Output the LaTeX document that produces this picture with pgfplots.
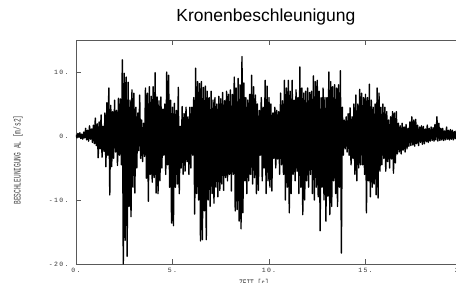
\documentclass[border=0pt]{standalone}
\usepackage{pgfplots}
\usepackage{pgfplotstable}
\pgfplotsset{compat=1.18}
\usepackage{fontspec}
\setmainfont{Liberation Sans}
\newfontfamily\monofont{Liberation Mono}
\newfontfamily\tickfont[LetterSpace=20]{Liberation Mono}

% acceleration samples, dt = 0.05 s, t = 0 ... 20 s
\pgfplotstableread[header=false]{
0.2
-0.3
0.4
-0.2
0.5
-0.4
0.3
-0.5
0.6
-0.3
1.2
-0.6
0.9
-0.8
1.6
-0.5
1.1
-1.0
1.7
-1.2
2.8
-1.5
1.9
-3.4
2.2
-2.0
3.3
-3.3
1.5
-2.4
3.6
-4.8
5.2
-3.0
7.5
-9.2
4.8
-4.8
3.8
-3.5
5.6
-2.5
4.0
-4.6
5.9
-3.0
5.8
-4.5
11.9
-20.0
9.8
-16.3
9.2
-18.8
8.4
-11.0
5.6
-12.6
7.2
-8.0
6.7
-8.9
4.5
-5.0
3.6
-2.3
6.4
-3.5
2.5
-4.0
2.0
-3.2
7.5
-6.6
6.7
-10.2
7.7
-6.0
6.2
-7.2
7.7
-6.5
9.9
-8.9
6.1
-9.0
5.5
-7.0
6.1
-5.0
4.2
-3.0
5.0
-6.0
10.0
-4.5
9.5
-8.0
5.6
-13.6
4.5
-14.0
5.1
-8.0
4.0
-7.5
7.6
-9.0
1.5
-5.0
4.6
-6.0
3.5
-5.5
4.5
-4.0
3.0
-6.0
4.5
-5.0
4.5
-3.0
6.0
-12.2
10.6
-9.0
8.5
-10.0
8.2
-16.4
8.5
-16.2
7.6
-11.7
7.8
-16.2
7.0
-10.0
6.0
-11.0
7.0
-9.0
5.6
-10.5
6.0
-8.0
5.0
-9.5
6.2
-8.5
5.8
-7.5
6.8
-8.5
5.5
-6.5
7.0
-7.0
6.5
-6.0
7.2
-8.6
6.5
-6.0
9.2
-11.7
7.5
-11.5
9.0
-13.3
8.0
-14.5
12.4
-12.0
8.3
-7.0
6.0
-9.0
5.6
-7.0
6.5
-6.0
9.5
-7.5
7.7
-6.5
6.4
-9.0
5.0
-8.5
4.0
-3.0
6.0
-7.0
4.5
-5.0
8.7
-9.0
7.8
-7.0
6.0
-8.0
5.0
-8.6
3.6
-3.5
4.5
-5.0
4.0
-3.6
3.8
-6.0
6.7
-4.5
5.5
-6.0
8.7
-10.0
7.5
-8.0
8.7
-12.0
7.0
-9.0
8.7
-6.0
5.6
-7.0
7.2
-5.5
6.0
-9.0
10.8
-8.0
7.5
-12.3
6.7
-10.0
7.0
-7.0
7.5
-8.0
6.8
-6.0
7.0
-9.0
9.4
-10.0
8.5
-8.0
8.7
-9.5
7.0
-14.8
6.0
-8.0
7.5
-10.0
6.0
-13.3
6.0
-9.4
10.0
-12.3
8.5
-11.0
7.7
-7.0
8.0
-9.0
7.5
-11.0
8.0
-8.0
10.2
-18.3
4.5
-3.0
2.5
-2.0
3.0
-2.5
3.5
-3.0
4.4
-4.5
3.0
-3.5
5.0
-6.0
6.4
-7.0
5.0
-5.0
7.3
-4.5
6.7
-4.5
6.0
-6.0
6.5
-12.0
6.0
-7.0
8.1
-9.5
5.6
-8.0
4.5
-7.5
5.0
-9.2
7.5
-9.7
6.7
-5.5
4.5
-4.5
5.0
-3.5
4.5
-5.5
3.8
-4.0
2.5
-5.0
3.0
-3.6
3.8
-5.8
3.6
-4.2
3.8
-2.8
2.0
-2.5
1.6
-2.8
2.0
-2.2
1.4
-2.5
1.8
-2.0
1.2
-1.6
2.2
-1.5
3.0
-1.4
2.5
-1.6
2.6
-1.2
1.7
-1.5
1.4
-1.0
1.6
-1.3
1.5
-1.2
1.1
-0.9
1.7
-1.0
1.2
-0.8
1.4
-0.7
1.3
-0.8
1.8
-0.6
3.0
-0.8
2.0
-0.7
1.2
-0.6
1.2
-0.7
0.8
-0.6
1.4
-0.5
0.9
-0.6
1.0
-0.5
0.9
-0.6
0.7
-0.4
0.8
-0.5
0.6
-0.4
0.6
-0.4
0.3
}\accdata

\begin{document}
\begin{tikzpicture}
\useasboundingbox (0,0) rectangle (456pt,282pt);
\begin{axis}[
  at={(76pt,18pt)}, anchor=south west,
  scale only axis, width=386pt, height=224pt,
  xmin=0, xmax=20, ymin=-20, ymax=15,
  axis line style={black!65, line width=0.8pt},
  tick align=inside, major tick length=5pt,
  tick style={black!65, line width=0.8pt},
  xtick={0,5,10,15,20}, xticklabels={0.,5.,10.,15.,20.},
  ytick={-20,-10,0,10}, yticklabels={-20.,-10.,0.,10.},
  xticklabel style={font=\tickfont\fontsize{6.5}{6.5}\selectfont, text=black!80, yshift=-1pt},
  yticklabel style={font=\tickfont\fontsize{6.5}{6.5}\selectfont, text=black!80, xshift=-4pt},
  title={Kronenbeschleunigung},
  title style={font=\fontsize{17.5}{18}\selectfont, at={(axis description cs:0.492,1.058)}, anchor=base},
  xlabel={\scalebox{0.62}[1]{\monofont\fontsize{10}{10}\selectfont ZEIT [s]}},
  xlabel style={at={(axis description cs:0.461,-0.054)}, anchor=north, text=black!75},
  ylabel={\scalebox{0.62}[1]{\monofont\fontsize{10}{10}\selectfont BESCHLEUNIGUNG AL [m/s2]}},
  ylabel style={at={(axis description cs:-0.150,0.464)}, anchor=center, text=black!75},
]
\addplot[black, line width=1.4pt, line join=round] table[x expr=\coordindex*0.05, y index=0] {\accdata};
\end{axis}
\end{tikzpicture}
\end{document}
